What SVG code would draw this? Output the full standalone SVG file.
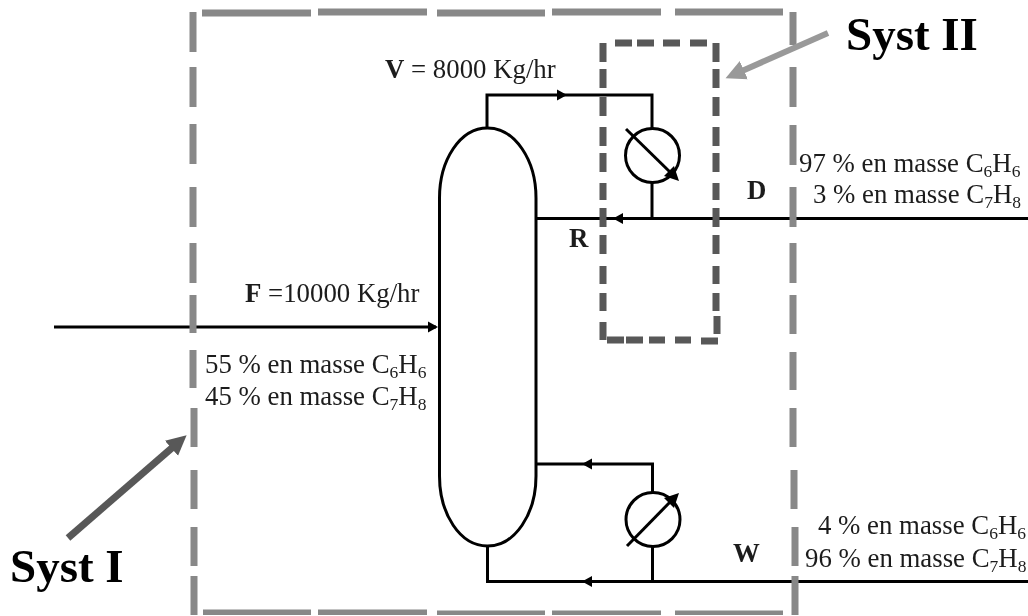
<svg xmlns="http://www.w3.org/2000/svg" width="1028" height="616" viewBox="0 0 1028 616">
<style>
.o{fill:none;stroke:#888;stroke-width:7}
.i{fill:none;stroke:#595959;stroke-width:7}
.p{fill:none;stroke:#000;stroke-width:3}
.h{fill:#000}
text{font-family:"Liberation Serif","Times New Roman",serif;fill:#1c1c1c}
.t{font-size:26.800px}
.s{font-size:17.500px}
.b{font-weight:bold}
.n{font-size:47px;font-weight:bold;fill:#000}
</style>
<defs>
<path id="ah" d="M0 0L-10-5.500V5.500Z"/>
<filter id="soft" x="0" y="0" width="100%" height="100%"><feGaussianBlur stdDeviation="0.45"/></filter>
<marker id="m1" markerUnits="userSpaceOnUse" markerWidth="26" markerHeight="26" refX="2" refY="13" orient="auto"><path d="M0 3L20 13L0 23Z" fill="#595959"/></marker>
<marker id="m2" markerUnits="userSpaceOnUse" markerWidth="26" markerHeight="26" refX="2" refY="13" orient="auto"><path d="M0 3L20 13L0 23Z" fill="#999"/></marker>
</defs>
<rect width="1028" height="616" fill="#fff"/>
<g filter="url(#soft)">
<g id="connectors">
<path class="p" d="M487 128V95H652V128"/>
<path class="p" d="M652 183V218.500"/>
<path class="p" d="M537 218.500H1028"/>
<path class="p" d="M54 327H436"/>
<path class="p" d="M537 464H652.500V492"/>
<path class="p" d="M652.500 547V581.500"/>
<path class="p" d="M1028 581.500H487.500V546"/>
<use href="#ah" class="h" transform="translate(567 95)"/>
<use href="#ah" class="h" transform="translate(613 218.500) rotate(180)"/>
<use href="#ah" class="h" transform="translate(438 327)"/>
<use href="#ah" class="h" transform="translate(582 464) rotate(180)"/>
<use href="#ah" class="h" transform="translate(582 581.500) rotate(180)"/>
</g>
<g id="syst1-boundary">
<path class="o" d="M193 12V52M193 67V107M193 124V164M193 187V227M193 243V283M193 295V333M193 350V388M194 408V447M194 470V509M194 527V566M194 576V615"/>
<path class="o" d="M202 13H311M318 12H427M437 13H545M552 12H661M675 12H783"/>
<path class="o" d="M793 12V45M793 67V107M793 125V165M793 187V227M793 243V283M793 295V334M793 352V390M793 408V447M794 470V509M795 527V566M795 576V615"/>
<path class="o" d="M203 613H311M318 613H427M437 614H545M552 614H661M675 614H783"/>
</g>
<g id="syst2-boundary">
<path class="i" d="M603 43V62M603 69V88M603 97V116M603 127V146M603 153V172M603 183V200M603 208V227M603 235V254M603 266V284M603 293V311M603 322V340"/>
<path class="i" d="M615 43H632M637 43H654M663 43H680M690 43H707"/>
<path class="i" d="M716 43V62M716 69V88M716 97V116M716 127V146M716 153V172M716 183V200M716 208V227M716 235V254M716 266V284M716 293V311M717 316V334"/>
<path class="i" d="M607 340H624M626 340H643M649 340H665M675 340H691M701 341H718"/>
</g>
<g id="column">
<path class="p" d="M439.500 198C439.500 160 460 128 487.500 128S536 160 536 198V476C536 514 515 546 487.500 546S439.500 514 439.500 476Z"/>
</g>
<g id="condenser">
<circle class="p" cx="652.500" cy="155.500" r="27"/>
<path class="p" d="M626 129L672 174"/>
<path class="h" d="M679 181L664 176L674 166Z"/>
</g>
<g id="reboiler">
<circle class="p" cx="653" cy="519.500" r="27"/>
<path class="p" d="M627 546L672 500"/>
<path class="h" d="M679 493L674 508L664 498Z"/>
</g>
<g id="syst1-label">
<path d="M68 538L173 447" stroke="#595959" stroke-width="7" fill="none" marker-end="url(#m1)"/>
<text class="n" x="10" y="582">Syst I</text>
</g>
<g id="syst2-label">
<path d="M828 33L742 71" stroke="#999" stroke-width="6" fill="none" marker-end="url(#m2)"/>
<text class="n" x="846" y="50">Syst II</text>
</g>
<g id="labels">
<text class="t" x="385" y="78"><tspan class="b">V</tspan> = 8000 Kg/hr</text>
<text class="t" x="245" y="302"><tspan class="b">F</tspan> =10000 Kg/hr</text>
<text class="t b" x="747" y="199">D</text>
<text class="t b" x="569" y="247">R</text>
<text class="t b" x="733" y="562">W</text>
<text class="t" x="205" y="373">55 % en masse C<tspan class="s" dy="5">6</tspan><tspan dy="-5">H</tspan><tspan class="s" dy="5">6</tspan></text>
<text class="t" x="205" y="405">45 % en masse C<tspan class="s" dy="5">7</tspan><tspan dy="-5">H</tspan><tspan class="s" dy="5">8</tspan></text>
<text class="t" x="799" y="172">97 % en masse C<tspan class="s" dy="5">6</tspan><tspan dy="-5">H</tspan><tspan class="s" dy="5">6</tspan></text>
<text class="t" x="813" y="203">3 % en masse C<tspan class="s" dy="5">7</tspan><tspan dy="-5">H</tspan><tspan class="s" dy="5">8</tspan></text>
<text class="t" x="818" y="534">4 % en masse C<tspan class="s" dy="5">6</tspan><tspan dy="-5">H</tspan><tspan class="s" dy="5">6</tspan></text>
<text class="t" x="805" y="567">96 % en masse C<tspan class="s" dy="5">7</tspan><tspan dy="-5">H</tspan><tspan class="s" dy="5">8</tspan></text>
</g>
</g>
</svg>
